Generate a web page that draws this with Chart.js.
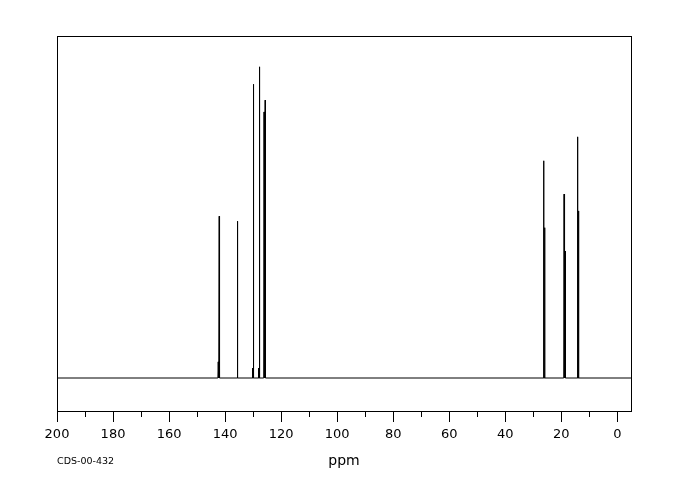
<!DOCTYPE html>
<html>
<head>
<meta charset="utf-8">
<script src="https://cdn.jsdelivr.net/npm/chart.js@4.4.1/dist/chart.umd.min.js"></script>
<style>
  html, body { margin: 0; padding: 0; background: #fff; }
  #wrap { width: 680px; height: 500px; }
</style>
</head>
<body>
<div id="wrap"><canvas id="nmr"></canvas></div>
<script>
// peak positions (ppm) and relative intensities
const peakPpm = [142.1, 142.45, 135.6, 130.25, 129.9, 128.1, 127.75, 126.1, 125.7, 26.3, 25.95, 19.0, 18.65, 14.2, 13.85];
const peakHeight = [52.0, 5.2, 50.4, 3.2, 94.4, 3.2, 100, 85.5, 89.3, 69.8, 48.3, 59.1, 40.8, 77.5, 53.7];

const majorTicks = [200, 180, 160, 140, 120, 100, 80, 60, 40, 20, 0];
const minorTicks = [190, 170, 150, 130, 110, 90, 70, 50, 30, 10];

const xMin = -4.9, xMax = 200;
const sampleId = "CDS-00-432";

// build a stick spectrum: baseline with a narrow spike for every line
function buildSpectrum() {
    const pts = [{ x: xMax, y: 0 }];
    const order = peakPpm.map((p, i) => i).sort((a, b) => peakPpm[b] - peakPpm[a]);
    order.forEach(i => {
        const p = peakPpm[i];
        pts.push({ x: p + 0.12, y: 0 });
        pts.push({ x: p, y: peakHeight[i] });
        pts.push({ x: p - 0.12, y: 0 });
    });
    pts.push({ x: xMin, y: 0 });
    return pts;
}

const frame = {
    id: "frame",
    afterDraw(chart) {
        const { ctx, chartArea: a } = chart;
        const xs = chart.scales.x;
        ctx.save();
        ctx.strokeStyle = "#000";
        ctx.lineWidth = 1;
        ctx.strokeRect(Math.round(a.left) + 0.5, Math.round(a.top) + 0.5,
            Math.round(a.right - a.left), Math.round(a.bottom - a.top));
        // minor ticks
        ctx.beginPath();
        minorTicks.forEach(v => {
            const px = Math.round(xs.getPixelForValue(v)) + 0.5;
            ctx.moveTo(px, a.bottom);
            ctx.lineTo(px, a.bottom + 6);
        });
        ctx.stroke();
        ctx.fillStyle = "#000";
        ctx.font = "9.5px 'DejaVu Sans'";
        ctx.textBaseline = "middle";
        ctx.textAlign = "left";
        ctx.fillText(sampleId, 57, 462);
        ctx.restore();
    }
};

new Chart(document.getElementById("nmr"), {
    type: "line",
    data: {
        datasets: [{
            data: buildSpectrum(),
            borderColor: "#000",
            borderWidth: 1,
            pointRadius: 0,
            tension: 0,
            fill: false
        }]
    },
    options: {
        responsive: true,
        maintainAspectRatio: false,
        animation: false,
        layout: { padding: { left: 57, right: 49, top: 36, bottom: 0 } },
        plugins: { legend: { display: false }, tooltip: { enabled: false } },
        scales: {
            x: {
                type: "linear",
                reverse: true,
                min: xMin,
                max: xMax,
                afterBuildTicks: s => { s.ticks = majorTicks.map(v => ({ value: v })); },
                afterFit: s => { s.height = 89; },
                grid: { display: true, drawOnChartArea: false, drawTicks: true, tickLength: 11, color: "#000", lineWidth: 1 },
                border: { display: true, color: "#000", width: 1 },
                ticks: { color: "#000", padding: 5, maxRotation: 0, autoSkip: false, font: { family: "DejaVu Sans", size: 13 } },
                title: { display: true, text: "ppm", color: "#000", font: { family: "DejaVu Sans", size: 14 }, padding: { top: 0, bottom: 30 } }
            },
            y: {
                display: false,
                min: -10.6,
                max: 109.9
            }
        }
    },
    plugins: [frame]
});
</script>
</body>
</html>
